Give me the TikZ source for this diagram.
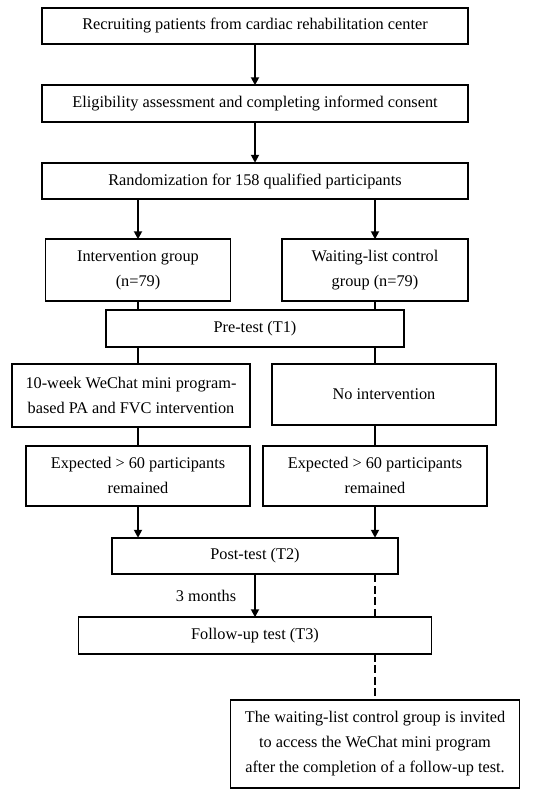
\documentclass[tikz,border=0pt]{standalone}
\usepackage{fontspec}
\setmainfont{Liberation Serif}
\usetikzlibrary{arrows.meta}

\begin{document}
\begin{tikzpicture}[line width=1.8pt,
  box/.style={rectangle,draw,align=center,inner sep=2pt,outer sep=0pt,minimum height=36.5pt,
    font=\fontsize{16.3}{25}\selectfont},
  arr/.style={-{Triangle[width=8pt,length=8pt]}},
  dline/.style={dash pattern=on 8pt off 3.5pt}]
\useasboundingbox (0,0) rectangle (536pt,-806pt);

\node [box,minimum width=426pt] (recruit) at (255pt,-26pt) {Recruiting patients from cardiac rehabilitation center};
\node [box,minimum width=426pt,below=41pt,at=(recruit.south)] (elig) {Eligibility assessment and completing informed consent};
\node [box,minimum width=426pt,below=41pt,at=(elig.south)] (rand) {Randomization for 158 qualified participants};

\node [box,minimum width=185pt,minimum height=62pt,below=40pt,at=(rand.south),xshift=-117pt] (inter) {Intervention group\\(n=79)};
\node [box,minimum width=186pt,minimum height=62pt,below=40pt,at=(rand.south),xshift=120pt] (wait) {Waiting-list control\\group (n=79)};

\node [box,minimum width=298pt,below=9pt,at={(inter.south -| rand.south)}] (pre) {Pre-test (T1)};

\node [box,minimum width=238pt,minimum height=63pt,below=17pt,at={(pre.south -| inter.south)},xshift=-7pt] (week) {10-week WeChat mini program-\\based PA and FVC intervention};
\node [box,minimum width=224pt,minimum height=61pt,below=17pt,at={(pre.south -| wait.south)},xshift=9pt] (noint) {No intervention};

\node [box,minimum width=224pt,minimum height=60pt,below=19pt,at={(week.south -| inter.south)}] (exp1) {Expected > 60 participants\\remained};
\node [box,minimum width=224pt,minimum height=60pt,below=19pt,at={(week.south -| wait.south)}] (exp2) {Expected > 60 participants\\remained};

\node [box,minimum width=286pt,below=32pt,at={(exp1.south -| rand.south)}] (post) {Post-test (T2)};
\node [box,minimum width=353pt,below=43pt,at=(post.south)] (fu) {Follow-up test (T3)};
\node [box,minimum width=289pt,minimum height=88pt,below=46pt,at={(fu.south -| wait.south)}] (final) {The waiting-list control group is invited\\to access the WeChat mini program\\after the completion of a follow-up test.};

\draw [arr] (recruit) -- (elig);
\draw [arr] (elig) -- (rand);
\draw [arr] (inter.north |- rand.south) -- (inter.north);
\draw [arr] (wait.north |- rand.south) -- (wait.north);

\draw (inter.south) -- (inter.south |- pre.north);
\draw (wait.south) -- (wait.south |- pre.north);
\draw (inter.south |- pre.south) -- (inter.south |- week.north);
\draw (wait.south |- pre.south) -- (wait.south |- noint.north);
\draw (exp1.north |- week.south) -- (exp1.north);
\draw (exp2.north |- noint.south) -- (exp2.north);

\draw [arr] (exp1.south) -- (exp1.south |- post.north);
\draw [arr] (exp2.south) -- (exp2.south |- post.north);

\draw [arr] (post) -- node [left=18pt,inner sep=0pt,font=\fontsize{16.3}{20}\selectfont] (months) {3 months} (fu);
\draw [dline] (post.south -| final.north) -- (fu.north -| final.north);
\draw [dline] (fu.south -| final.north) -- (final.north);
\end{tikzpicture}
\end{document}
